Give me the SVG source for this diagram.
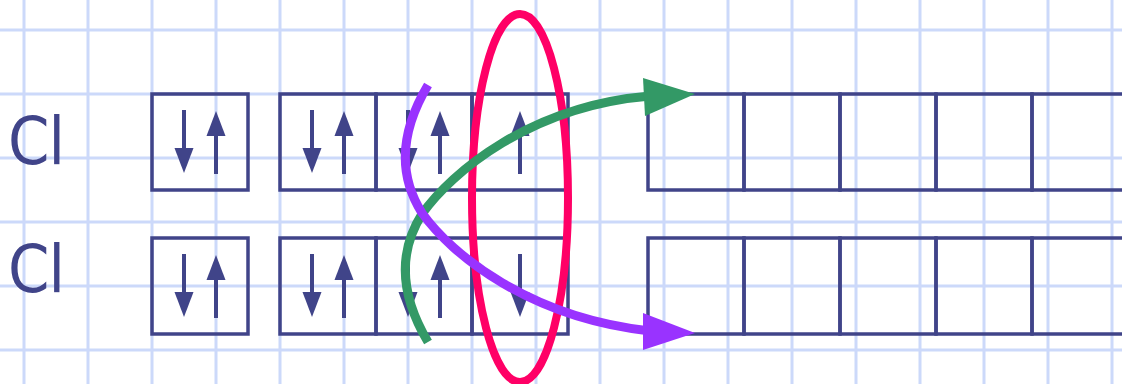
<svg xmlns="http://www.w3.org/2000/svg" width="1122" height="384" viewBox="0 0 1122 384">
<defs>
<style>
.g{stroke:#ccd9fa;stroke-width:3;fill:none}
.b{stroke:#404489;stroke-width:3.500;fill:none}
.s{stroke:#404489;stroke-width:4;fill:none}
.h{fill:#404489}
.t{font-family:"DejaVu Sans",sans-serif;font-size:66px;font-stretch:condensed;letter-spacing:-1px;fill:#404489}
</style>
<g id="dn"><path class="s" d="M0 0V40"/><path class="h" d="M-9.500 38H9.500L0 63Z"/></g>
<g id="up"><path class="s" d="M0 64V24"/><path class="h" d="M-9.500 26H9.500L0 1Z"/></g>
</defs>
<rect width="1122" height="384" fill="#fff"/>
<path class="g" d="M24 0V384M88 0V384M152 0V384M216 0V384M280 0V384M344 0V384M408 0V384M472 0V384M536 0V384M600 0V384M664 0V384M728 0V384M792 0V384M856 0V384M920 0V384M984 0V384M1048 0V384M1112 0V384M0 30H1122M0 94H1122M0 158H1122M0 222H1122M0 286H1122M0 350H1122"/>
<text class="t" x="8" y="163.500">Cl</text>
<text class="t" x="8" y="291.500">Cl</text>
<g id="row1-s"><rect class="b" x="152" y="94" width="96" height="96"/><use href="#dn" x="184" y="110"/><use href="#up" x="216" y="110"/></g>
<g id="row1-p"><rect class="b" x="280" y="94" width="96" height="96"/><rect class="b" x="376" y="94" width="96" height="96"/><rect class="b" x="472" y="94" width="96" height="96"/><use href="#dn" x="312" y="110"/><use href="#up" x="344" y="110"/><use href="#dn" x="408" y="110"/><use href="#up" x="440" y="110"/><use href="#up" x="520" y="110"/></g>
<g id="row1-d"><rect class="b" x="648" y="94" width="96" height="96"/><rect class="b" x="744" y="94" width="96" height="96"/><rect class="b" x="840" y="94" width="96" height="96"/><rect class="b" x="936" y="94" width="96" height="96"/><rect class="b" x="1032" y="94" width="96" height="96"/></g>
<g id="row2-s"><rect class="b" x="152" y="238" width="96" height="96"/><use href="#dn" x="184" y="254"/><use href="#up" x="216" y="254"/></g>
<g id="row2-p"><rect class="b" x="280" y="238" width="96" height="96"/><rect class="b" x="376" y="238" width="96" height="96"/><rect class="b" x="472" y="238" width="96" height="96"/><use href="#dn" x="312" y="254"/><use href="#up" x="344" y="254"/><use href="#dn" x="408" y="254"/><use href="#up" x="440" y="254"/><use href="#dn" x="520" y="254"/></g>
<g id="row2-d"><rect class="b" x="648" y="238" width="96" height="96"/><rect class="b" x="744" y="238" width="96" height="96"/><rect class="b" x="840" y="238" width="96" height="96"/><rect class="b" x="936" y="238" width="96" height="96"/><rect class="b" x="1032" y="238" width="96" height="96"/></g>
<g id="oval"><ellipse cx="520" cy="198" rx="48" ry="184" fill="none" stroke="#ff0066" stroke-width="8"/></g>
<g id="connectors">
<path d="M428 342C400 295 398 252 422 214C452 172 530 106 650 96" fill="none" stroke="#339966" stroke-width="9"/>
<path d="M643 78L695 94L645 116Z" fill="#339966"/>
<path d="M428 85C400 132 398 175 422 213C452 255 530 318 650 331" fill="none" stroke="#9933ff" stroke-width="9"/>
<path d="M643 313L695 333L643 350Z" fill="#9933ff"/>
</g>
</svg>
